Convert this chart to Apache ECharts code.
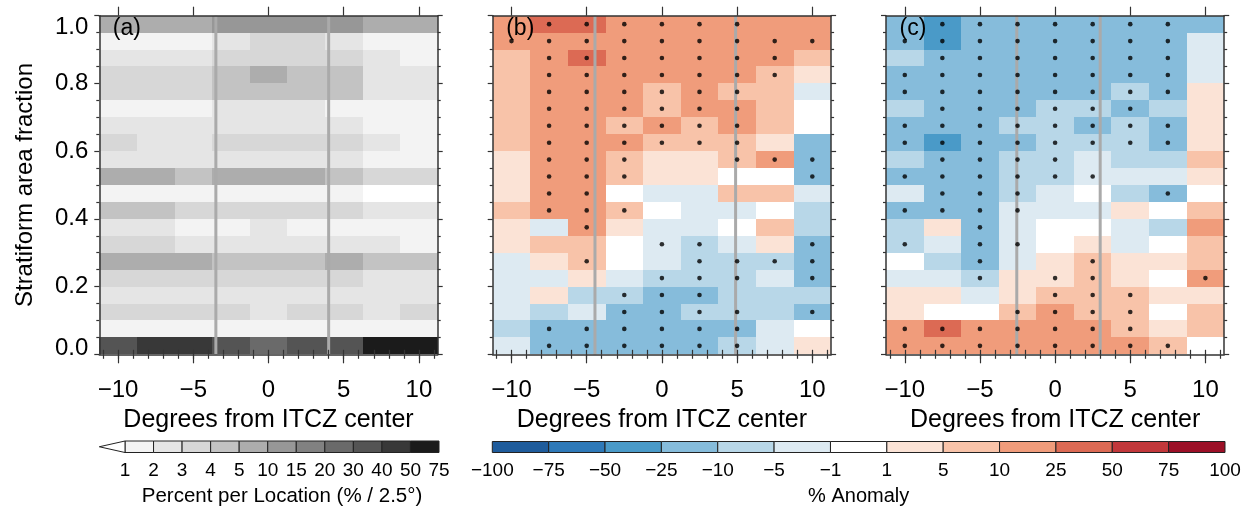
<!DOCTYPE html>
<html><head><meta charset="utf-8">
<script src="https://cdn.jsdelivr.net/npm/echarts@6/dist/echarts.min.js"></script>
<style>html,body{margin:0;padding:0;background:#fff}#c{width:1250px;height:510px}</style>
</head><body><div id="c"></div>
<script>
// ---------------- data ----------------
const xCenters = [-10, -7.5, -5, -2.5, 0, 2.5, 5, 7.5, 10];
const rowBottoms = [0.95,0.90,0.85,0.80,0.75,0.70,0.65,0.60,0.55,0.50,0.45,0.40,0.35,0.30,0.25,0.20,0.15,0.10,0.05,0.00];
const binWidth = 2.5;
const rowHeight = 0.05;

// (a) percent per location, rows listed top (0.95-1.0) to bottom (0.0-0.05)
const pctA = [
  [7,7,7,12,12,12,12,7,7],
  [1.5,1.5,1.5,2.5,3.5,3.5,2.5,1.5,1.5],
  [2.5,2.5,2.5,3.5,3.5,3.5,3.5,2.5,1.5],
  [3.5,3.5,3.5,4.5,7,4.5,4.5,2.5,2.5],
  [3.5,3.5,3.5,4.5,4.5,4.5,4.5,2.5,2.5],
  [1.5,1.5,1.5,2.5,2.5,2.5,1.5,1.5,1.5],
  [2.5,2.5,2.5,2.5,2.5,2.5,2.5,1.5,1.5],
  [3.5,2.5,2.5,3.5,3.5,3.5,3.5,2.5,1.5],
  [2.5,2.5,2.5,2.5,2.5,2.5,2.5,1.5,1.5],
  [7,7,4.5,7,7,7,4.5,3.5,3.5],
  [1.5,1.5,1.5,1.5,1.5,1.5,1.5,0.5,0.5],
  [4.5,4.5,3.5,3.5,3.5,3.5,3.5,2.5,2.5],
  [2.5,2.5,1.5,1.5,2.5,1.5,1.5,1.5,1.5],
  [3.5,3.5,2.5,2.5,2.5,2.5,2.5,2.5,1.5],
  [7,7,7,4.5,4.5,4.5,7,4.5,4.5],
  [3.5,3.5,3.5,3.5,3.5,3.5,3.5,2.5,2.5],
  [2.5,2.5,2.5,2.5,2.5,2.5,2.5,2.5,2.5],
  [3.5,3.5,3.5,3.5,2.5,3.5,3.5,2.5,3.5],
  [1.5,1.5,1.5,1.5,1.5,1.5,1.5,1.5,1.5],
  [35,45,45,35,25,35,35,60,60]
];

// (b) % anomaly
const anomB = [
  [17,35,35,17,17,17,17,17,17],
  [17,17,17,17,17,17,17,17,17],
  [7,17,35,17,17,17,17,17,7],
  [7,17,17,17,17,17,17,7,3],
  [7,17,17,17,7,17,7,7,-3],
  [7,17,17,17,7,17,17,7,0],
  [7,17,17,7,17,7,17,7,0],
  [7,17,17,17,7,7,7,3,-17],
  [3,17,17,7,3,3,7,17,-17],
  [3,17,17,7,3,3,0,0,-17],
  [3,17,17,0,-3,-3,7,7,-3],
  [7,17,17,7,0,-3,-3,0,-7],
  [3,-3,17,3,-3,-3,0,7,-7],
  [3,7,7,0,-3,-7,-3,3,-17],
  [-3,3,7,0,-3,-7,-7,-7,-17],
  [-3,-3,3,-3,-7,-7,-7,-3,-17],
  [-3,3,-7,-7,-17,-17,-7,-7,-7],
  [-3,-7,-3,-17,-17,-7,-7,-7,-17],
  [-7,-17,-17,-17,-17,-17,-17,-3,0],
  [-3,-17,-17,-17,-17,-17,-7,-3,3]
];

// (c) % anomaly
const anomC = [
  [-17,-35,-17,-17,-17,-17,-17,-17,-17],
  [-17,-35,-17,-17,-17,-17,-17,-17,-3],
  [-7,-17,-17,-17,-17,-17,-17,-17,-3],
  [-17,-17,-17,-17,-17,-17,-17,-17,-3],
  [-17,-17,-17,-17,-17,-17,-7,-17,3],
  [-7,-17,-17,-17,-7,-7,-17,-7,3],
  [-17,-17,-17,-7,-7,-17,-7,-17,3],
  [-17,-35,-17,-17,-7,-7,-7,-17,3],
  [-7,-17,-17,-7,-7,-3,-7,-7,7],
  [-17,-17,-17,-7,-7,-3,-3,-3,3],
  [-3,-17,-17,-7,-3,0,-7,-17,0],
  [-17,-17,-17,-3,-3,-3,3,0,7],
  [-7,3,-17,-3,0,0,-3,-7,17],
  [-7,-3,-17,-3,0,3,-3,0,7],
  [0,-7,-17,-3,3,7,3,3,7],
  [-3,-3,-7,3,3,7,3,0,17],
  [3,3,-3,3,7,7,7,3,3],
  [3,0,0,7,17,7,7,0,7],
  [17,35,17,17,17,17,7,3,7],
  [17,17,17,17,17,17,17,7,0]
];

// significance dots: column indices per row (top to bottom)
const dotsB = [
  [1,2,3,4,5,6],[0,1,2,3,4,5,6,7,8],[1,2,3,4,5,6,7],[1,2,3,4,5,6,7],
  [1,2,3,4,5,6],[1,2,3,4,5,6],[1,2,3,4,5,6],[1,2,3,4,5,6],
  [1,2,3,6,7,8],[1,2,3,8],[1,2],[1,2,3],[2],[4,5,8],[2,5,6,7,8],
  [4,5,6,8],[3,4,5],[3,4,5,6,8],[1,2,3,4,5,6],[1,2,3,4,5,6]
];
const dotsC = [
  [1,2,3,4,5,6,7],[0,1,2,3,4,5,6,7],[1,2,3,4,5,6,7],[0,1,2,3,4,5,6,7],
  [0,1,2,3,4,5,6,7],[1,2,3,4,5,6],[0,1,2,3,4,5,6,7],[0,1,2,3,4,5,6,7],
  [1,2,3,4],[0,1,2,3,4,5],[1,2,3,7],[0,1,2,3],[2],[0,2,3],[2,5],
  [2,4,5,8],[4,5,6],[3,4,5,6],[0,1,2,3,4,5,6],[0,1,2,3,4,5,6,7]
];

// ITCZ edge lines (degrees)
const edgesA = [-3.5, 4.0];
const edgesB = [-4.45, 4.9];
const edgesC = [-2.55, 3.0];

const xTicksMajor = [-10, -5, 0, 5, 10];
const xTicksMinor = [-11,-10,-9,-8,-7,-6,-5,-4,-3,-2,-1,0,1,2,3,4,5,6,7,8,9,10,11];
const panelLabels = ['(a)', '(b)', '(c)'];

const grayLevels = [1, 2, 3, 4, 5, 10, 15, 20, 30, 40, 50, 75];
const grayColors = ['#ffffff','#f3f3f3','#e5e5e5','#d7d7d7','#c3c3c3','#adadad','#979797','#818181','#6a6a6a','#545454','#383838','#1b1b1b'];
const anomLevels = [-100, -75, -50, -25, -10, -5, -1, 1, 5, 10, 25, 50, 75, 100];
const anomColors = ['#1f5c9c','#2e79b8','#4a9ac8','#86bcdb','#b8d7e8','#ddeaf2','#ffffff','#fbe3d6','#f8c3a9','#f09c7b','#dc6a54','#c2383b','#9c1027'];

// ---------------- build ----------------
const FONT = 'Liberation Sans, Arial, Helvetica, sans-serif';
const AX = '#333333';
const minus = v => String(v).replace('-', '\u2212');

function cells(table) {
  const out = [];
  table.forEach((row, r) => row.forEach((v, c) => out.push([xCenters[c], rowBottoms[r], v])));
  return out;
}
function dots(list) {
  const out = [];
  list.forEach((cols, r) => cols.forEach(c => out.push([xCenters[c], rowBottoms[r] + rowHeight / 2])));
  return out;
}
function cellRender(params, api) {
  const x = api.value(0), y = api.value(1);
  const p0 = api.coord([x - binWidth / 2, y]);
  const p1 = api.coord([x + binWidth / 2, y + rowHeight]);
  const x0 = Math.round(p0[0]), x1 = Math.round(p1[0]);
  const y0 = Math.round(p0[1]), y1 = Math.round(p1[1]);
  const c = api.visual('color');
  return { type: 'rect', shape: { x: x0, y: y1, width: x1 - x0, height: y0 - y1 },
           style: { fill: c } };
}

const grids = [
  { left: 99.3, top: 15.7, width: 338.4, height: 338.6 },
  { left: 492.7, top: 15.7, width: 338.4, height: 338.6 },
  { left: 886, top: 15.7, width: 338.2, height: 338.6 },
  { left: 125, top: 441, width: 314, height: 11.5 },
  { left: 492.3, top: 441.5, width: 732.7, height: 11 }
];

const xAxes = [], yAxes = [], series = [];
const tables = [pctA, anomB, anomC];
const dotSets = [null, dotsB, dotsC];
const edgeSets = [edgesA, edgesB, edgesC];

for (let g = 0; g < 3; g++) {
  const base = { gridIndex: g, type: 'value', min: -11.25, max: 11.25, z: 10, splitLine: { show: false } };
  xAxes.push(Object.assign({}, base, {
    position: 'bottom',
    axisLine: { show: true, onZero: false, lineStyle: { color: AX, width: 1.5 } },
    axisTick: { show: true, length: 9, customValues: xTicksMajor, lineStyle: { color: AX, width: 1.2 } },
    axisLabel: { show: true, customValues: xTicksMajor, formatter: minus, margin: 24, fontSize: 24, color: '#000', fontFamily: FONT },
    name: 'Degrees from ITCZ center', nameLocation: 'middle', nameGap: 44,
    nameTextStyle: { fontSize: 25, color: '#000', fontFamily: FONT }
  }));
  xAxes.push(Object.assign({}, base, {
    position: 'bottom', axisLine: { show: false },
    axisTick: { show: true, length: 4.5, customValues: xTicksMinor, lineStyle: { color: AX, width: 1.2 } },
    axisLabel: { show: false }
  }));
  xAxes.push(Object.assign({}, base, {
    position: 'top',
    axisLine: { show: true, onZero: false, lineStyle: { color: AX, width: 1.5 } },
    axisTick: { show: true, length: 9, customValues: xTicksMajor, lineStyle: { color: AX, width: 1.2 } },
    axisLabel: { show: false }
  }));
  xAxes.push(Object.assign({}, base, {
    position: 'top', axisLine: { show: false },
    axisTick: { show: true, length: 4.5, customValues: xTicksMinor, lineStyle: { color: AX, width: 1.2 } },
    axisLabel: { show: false }
  }));
  const ybase = { gridIndex: g, type: 'value', min: 0, max: 1, interval: 0.2, z: 10,
    splitLine: { show: false }, minorSplitLine: { show: false },
    axisLine: { show: true, onZero: false, lineStyle: { color: AX, width: 1.5 } },
    axisTick: { show: true, length: 5, lineStyle: { color: AX, width: 1.2 } },
    minorTick: { show: true, splitNumber: 4, length: 3, lineStyle: { color: AX, width: 1.2 } } };
  yAxes.push(Object.assign({}, ybase, {
    position: 'left',
    axisLabel: g === 0 ? {
      show: true, margin: 11, fontSize: 24, color: '#000', fontFamily: FONT,
      formatter: v => Math.abs(v) < 1e-6 ? '{lo|0.0}' : (Math.abs(v - 1) < 1e-6 ? '{hi|1.0}' : v.toFixed(1)),
      rich: { lo: { fontSize: 24, color: '#000', fontFamily: FONT, padding: [0, 0, 11, 0] },
              hi: { fontSize: 24, color: '#000', fontFamily: FONT, padding: [24, 0, 0, 0] } }
    } : { show: false },
    name: g === 0 ? 'Stratiform area fraction' : '', nameLocation: 'middle', nameGap: 62,
    nameTextStyle: { fontSize: 24, color: '#000', fontFamily: FONT }
  }));
  yAxes.push(Object.assign({}, ybase, { position: 'right', axisLabel: { show: false } }));

  series.push({ type: 'custom', xAxisIndex: g * 4, yAxisIndex: g * 2, renderItem: cellRender,
    data: cells(tables[g]), z: 2, silent: true, encode: { x: 0, y: 1 } });
  edgeSets[g].forEach(e => series.push({ type: 'line', xAxisIndex: g * 4, yAxisIndex: g * 2,
    data: [[e, 0], [e, 1]], showSymbol: false, symbol: 'none', silent: true, z: 3,
    lineStyle: { color: '#aaaaaa', width: 3 } }));
  if (dotSets[g]) series.push({ type: 'scatter', xAxisIndex: g * 4, yAxisIndex: g * 2,
    data: dots(dotSets[g]), symbol: 'circle', symbolSize: 4.6, z: 4, silent: true,
    itemStyle: { color: '#000' } });
}

// colorbar axes
xAxes.push({ gridIndex: 3, type: 'value', min: 0, max: grayLevels.length - 1, interval: 1,
  axisLine: { show: false }, axisTick: { show: false }, splitLine: { show: false },
  axisLabel: { show: true, interval: 0, margin: 9, fontSize: 19, color: '#000', fontFamily: FONT,
    formatter: v => String(grayLevels[Math.round(v)]) },
  name: 'Percent per Location (% / 2.5\u00b0)', nameLocation: 'middle', nameGap: 33,
  nameTextStyle: { fontSize: 20.5, color: '#000', fontFamily: FONT } });
xAxes.push({ gridIndex: 4, type: 'value', min: 0, max: anomLevels.length - 1, interval: 1,
  axisLine: { show: false }, axisTick: { show: false }, splitLine: { show: false },
  axisLabel: { show: true, interval: 0, margin: 9, fontSize: 19, color: '#000', fontFamily: FONT,
    formatter: v => minus(anomLevels[Math.round(v)]) },
  name: '% Anomaly', nameLocation: 'middle', nameGap: 34,
  nameTextStyle: { fontSize: 20, color: '#000', fontFamily: FONT } });
yAxes.push({ gridIndex: 3, type: 'value', min: 0, max: 1, show: false });
yAxes.push({ gridIndex: 4, type: 'value', min: 0, max: 1, show: false });
const cbX = xAxes.length - 2, cbY = yAxes.length - 2;

function boxRender(colors) {
  return function (params, api) {
    const i = api.value(0);
    const p0 = api.coord([i, 0]), p1 = api.coord([i + 1, 1]);
    return { type: 'rect', shape: { x: p0[0], y: p1[1], width: p1[0] - p0[0], height: p0[1] - p1[1] },
      style: { fill: colors[api.value(1)], stroke: '#222', lineWidth: 1 } };
  };
}
const grayBoxes = grayLevels.slice(0, -1).map((l, i) => [i, i + 1]);
const anomBoxes = anomLevels.slice(0, -1).map((l, i) => [i, i]);
series.push({ type: 'custom', xAxisIndex: cbX, yAxisIndex: cbY, renderItem: boxRender(grayColors), data: grayBoxes, silent: true, z: 5 });
series.push({ type: 'custom', xAxisIndex: cbX, yAxisIndex: cbY, silent: true, z: 5, data: [[0]],
  renderItem: (params, api) => ({ type: 'polygon',
    shape: { points: [api.coord([-0.9, 0.5]), api.coord([0, 1]), api.coord([0, 0])] },
    style: { fill: grayColors[0], stroke: '#222', lineWidth: 1 } }) });
series.push({ type: 'custom', xAxisIndex: cbX + 1, yAxisIndex: cbY + 1, renderItem: boxRender(anomColors), data: anomBoxes, silent: true, z: 5 });

const grayPieces = grayLevels.map((l, i) => i === 0 ? { lt: l, color: grayColors[0] } : { gte: grayLevels[i - 1], lt: l, color: grayColors[i] });
grayPieces.push({ gte: grayLevels[grayLevels.length - 1], color: grayColors[grayColors.length - 1] });
const anomPieces = anomColors.map((c, i) => ({ gte: anomLevels[i], lt: anomLevels[i + 1], color: c }));

const chart = echarts.init(document.getElementById('c'), null, { renderer: 'canvas' });
chart.setOption({
  animation: false,
  backgroundColor: '#fff',
  textStyle: { fontFamily: FONT },
  grid: grids,
  xAxis: xAxes,
  yAxis: yAxes,
  visualMap: [
    { type: 'piecewise', show: false, dimension: 2, seriesIndex: [0], pieces: grayPieces },
    { type: 'piecewise', show: false, dimension: 2,
      seriesIndex: series.map((s, i) => i).filter(i => i > 0 && series[i].type === 'custom' && series[i].renderItem === cellRender),
      pieces: anomPieces }
  ],
  graphic: panelLabels.map((t, g) => ({ type: 'text', left: grids[g].left + 13.5, top: 17, z: 20,
    style: { text: t, fontSize: 23, fill: '#000', fontFamily: FONT } })),
  series: series
});
</script></body></html>
